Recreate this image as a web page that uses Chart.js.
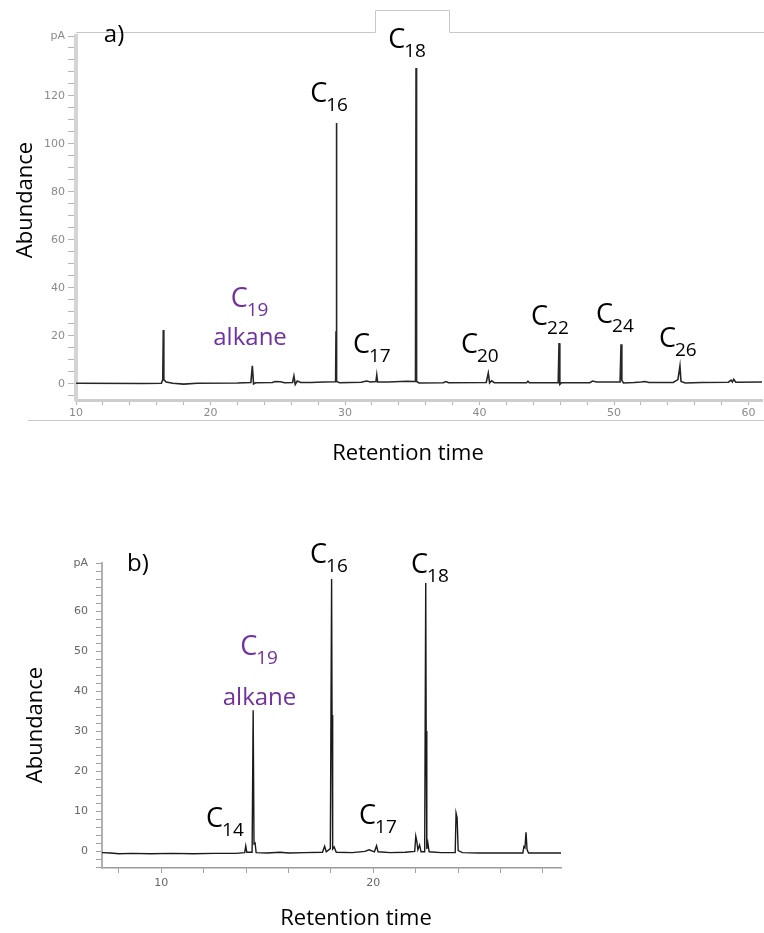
<!DOCTYPE html>
<html><head><meta charset="utf-8">
<script src="https://cdn.jsdelivr.net/npm/chart.js@4.4.1/dist/chart.umd.min.js"></script>
<style>
html,body{margin:0;padding:0;background:#fff;}
#wrap{position:relative;width:764px;height:933px;overflow:hidden;}
canvas{position:absolute;left:0;}
#ca{top:0;}
#cb{top:480px;}
</style></head><body>
<div id="wrap"><canvas id="ca" width="764" height="480"></canvas><canvas id="cb" width="764" height="453"></canvas></div>
<script>
// ---------- Chromatogram a) ----------
const timeA  = [10.0,15.0,16.35,16.45,16.49,16.53,16.7,17.2,18.0,19.0,22.0,23.0,23.11,23.2,23.35,24.6,24.8,25.2,25.5,26.1,26.2,26.3,26.45,26.7,27.5,28.4,29.3,29.33,29.35,29.37,29.4,29.6,31.2,31.6,31.9,32.3,32.36,32.42,33.2,34.6,35.24,35.28,35.32,35.5,37.3,37.5,37.7,40.5,40.65,40.75,40.9,41.1,43.5,43.6,43.7,45.85,45.91,45.97,46.1,48.2,48.4,48.7,50.45,50.52,50.58,50.7,51.5,52.0,52.3,52.6,54.4,54.75,54.9,54.98,55.3,56.5,58.5,58.7,58.8,58.9,59.05,61.0];
const abundA = [0.3,0.2,0.3,1.8,22.5,1.8,0.8,0.3,-0.1,0.3,0.4,0.6,7.5,0.0,0.5,0.6,1.0,0.9,0.5,0.6,3.3,-0.2,1.2,0.6,0.6,0.8,0.9,22,108.7,22,1.0,0.5,0.7,1.2,0.8,1.0,3.7,0.8,0.8,1.1,1.0,131.7,1.0,0.4,0.5,1.0,0.5,0.6,4.5,0.4,1.3,0.5,0.5,1.1,0.5,0.5,17,-0.2,0.5,0.5,1.2,0.8,0.8,16.5,1.5,0.4,0.6,0.8,1.0,0.6,0.6,1.8,7.5,1.0,0.4,0.6,0.7,1.6,0.8,1.9,0.7,0.8];
const xTicksA = {min:10, max:61, step:2, labelEvery:10, maxLabel:60};
const yTicksA = {min:-6.7, max:145, step:5, labelEvery:20, maxLabel:120};
const labelsA_main = ['C','C','C','C','C','C','C'];
const labelsA_sub  = ['16','18','17','20','22','24','26'];
const labelsA_t    = [27.56,33.36,30.74,38.77,43.98,48.81,53.49];
const labelsA_v    = [117.5,140,12.9,12.9,24.5,25.4,15.4];
const alkaneA_t = 22.94, alkaneA_vC = 32, alkaneA_vWord = 16.2;

// ---------- Chromatogram b) ----------
const timeB  = [7.2,7.6,8.0,8.6,9.5,10.5,11.5,12.5,13.5,13.93,13.98,14.03,14.28,14.33,14.37,14.42,14.47,15.0,15.6,16.0,16.8,17.6,17.7,17.78,17.97,18.03,18.05,18.08,18.15,18.25,19.0,19.6,19.8,20.05,20.15,20.22,20.8,21.5,21.95,22.0,22.05,22.1,22.18,22.25,22.42,22.47,22.49,22.52,22.57,22.63,23.2,23.86,23.9,23.95,24.0,24.2,25.0,26.5,27.05,27.1,27.15,27.2,27.25,27.32,28.85];
const abundB = [-0.4,-0.5,-0.7,-0.6,-0.7,-0.6,-0.7,-0.6,-0.6,-0.4,1.3,-0.3,-0.3,35.2,1.8,2.0,-0.4,-0.5,-0.3,-0.5,-0.4,-0.3,1.2,-0.2,0.6,68,34,0.5,1.0,-0.3,-0.4,-0.1,0.3,-0.2,1.3,-0.2,-0.4,-0.3,-0.1,3.7,2.4,0.3,1.5,-0.2,-0.2,67,30,0.5,2.0,-0.2,-0.4,-0.4,9.5,8.3,0.1,-0.4,-0.5,-0.5,-0.5,1.1,0.8,4.7,0.3,-0.5,-0.5];
const xTicksB = {min:7.2, max:28.85, step:2, labelEvery:10, maxLabel:20};
const yTicksB = {min:-4.25, max:72, step:2, labelEvery:10, maxLabel:60};
const labelsB_main = ['C','C','C','C'];
const labelsB_sub  = ['16','18','14','17'];
const labelsB_t    = [17.11,21.87,12.2,19.42];
const labelsB_v    = [72,69.5,6,6.75];
const alkaneB_t = 14.63, alkaneB_vC = 49, alkaneB_vWord = 36.5;

const FONT = '"Open Sans", "Noto Sans", sans-serif';
const MAIN_FONT = '27px ' + FONT;
const SUB_FONT = '19px ' + FONT;
const PURPLE = '#7030A0';

function drawChem(ctx, x, y, main, sub, color, center) {
  ctx.save();
  ctx.fillStyle = color;
  ctx.textBaseline = 'alphabetic';
  ctx.textAlign = 'left';
  ctx.font = MAIN_FONT;
  const w1 = ctx.measureText(main).width;
  ctx.font = SUB_FONT;
  const w2 = ctx.measureText(sub).width;
  const x0 = center ? x - (w1 + w2) / 2 : x - 2;
  ctx.font = MAIN_FONT;
  ctx.fillText(main, x0, y);
  ctx.font = SUB_FONT;
  ctx.fillText(sub, x0 + w1 - 1, y + 9);
  ctx.restore();
}
function drawWord(ctx, x, y, text, font, color, rot) {
  ctx.save();
  ctx.fillStyle = color;
  ctx.font = font;
  ctx.textAlign = 'center';
  ctx.textBaseline = rot ? 'middle' : 'alphabetic';
  ctx.translate(x, y);
  if (rot) ctx.rotate(-Math.PI / 2);
  ctx.fillText(text, 0, 0);
  ctx.restore();
}

function makePoints(ts, vs) { return ts.map((t, i) => ({x: t, y: vs[i]})); }
function isMult(v, m) { const r = Math.abs(v % m); return r < 1e-6 || Math.abs(r - m) < 1e-6; }

function makeChart(id, ts, vs, xt, yt, opt) {
  const labelPlugin = {
    id: 'labels_' + id,
    beforeDraw(chart) {
      if (opt.frame) opt.frame(chart.ctx);
    },
    afterDraw(chart) {
      const ctx = chart.ctx, xs = chart.scales.x, ys = chart.scales.y;
      opt.lm.forEach((m, i) => {
        drawChem(ctx, xs.getPixelForValue(opt.lt[i]), ys.getPixelForValue(opt.lv[i]), m, opt.ls[i], '#000', false);
      });
      const ax = xs.getPixelForValue(opt.alk[0]);
      drawChem(ctx, ax, ys.getPixelForValue(opt.alk[1]), 'C', '19', PURPLE, true);
      drawWord(ctx, ax, ys.getPixelForValue(opt.alk[2]), 'alkane', '24px ' + FONT, PURPLE, false);
      drawWord(ctx, opt.panel[1], opt.panel[2], opt.panel[0], '24px ' + FONT, '#000', false);
      drawWord(ctx, opt.xtitle[0], opt.xtitle[1], 'Retention time', '22px ' + FONT, '#000', false);
      drawWord(ctx, opt.ytitle[0], opt.ytitle[1], 'Abundance', '22px ' + FONT, '#000', true);
    }
  };
  return new Chart(document.getElementById(id), {
    type: 'line',
    data: { datasets: [{ data: makePoints(ts, vs), borderColor: opt.lineColor, borderWidth: opt.lineWidth,
      pointRadius: 0, tension: 0, fill: false }] },
    options: {
      responsive: false, animation: false, events: [], devicePixelRatio: 1,
      layout: { padding: opt.pad },
      plugins: { legend: {display: false}, tooltip: {enabled: false} },
      scales: {
        x: { type: 'linear', min: xt.min, max: xt.max,
          afterFit: s => { s.height = 30; },
          ticks: { stepSize: xt.step, includeBounds: false, autoSkip: false, maxRotation: 0,
            color: opt.tickColor, font: {size: 11, family: '"DejaVu Sans", sans-serif'}, padding: opt.xPad,
            callback: v => (isMult(v, xt.labelEvery) && v <= xt.maxLabel ? String(Math.round(v)) : '') },
          grid: { drawOnChartArea: false, drawTicks: true, tickLength: 5, color: opt.gridColor },
          border: { display: true, color: opt.xBorder, width: opt.xBorderW } },
        y: { type: 'linear', min: yt.min, max: yt.max,
          afterFit: s => { s.width = 40; },
          ticks: { stepSize: yt.step, includeBounds: false, autoSkip: false,
            color: opt.tickColor, font: {size: 11, family: '"DejaVu Sans", sans-serif'}, padding: opt.yPad,
            callback: v => (Math.abs(v - yt.max) < 1e-6 ? 'pA' : (isMult(v, yt.labelEvery) && v <= yt.maxLabel && v >= 0 ? String(Math.round(v)) : '')) },
          grid: { drawOnChartArea: false, drawTicks: true, tickLength: opt.yTick, color: opt.gridColor },
          border: { display: true, color: opt.yBorder, width: opt.yBorderW } }
      }
    },
    plugins: [labelPlugin]
  });
}

makeChart('ca', timeA, abundA, xTicksA, yTicksA, {
  pad: {left: 36, top: 36, right: 2, bottom: 50},
  lineColor: '#262626', lineWidth: 1.6, tickColor: '#8a8a8a', gridColor: '#b5b5b5',
  xBorder: '#cdcdcd', xBorderW: 3, yBorder: '#d4d4d4', yBorderW: 4, yTick: 8, yPad: 3, xPad: 2,
  lm: labelsA_main, ls: labelsA_sub, lt: labelsA_t, lv: labelsA_v,
  alk: [alkaneA_t, alkaneA_vC, alkaneA_vWord],
  panel: ['a)', 114, 42], xtitle: [408, 460], ytitle: [26, 200],
  frame: ctx => {
    ctx.save();
    ctx.strokeStyle = '#c8c8c8'; ctx.lineWidth = 1;
    ctx.beginPath();
    ctx.moveTo(76, 32.5); ctx.lineTo(375.5, 32.5); ctx.lineTo(375.5, 10.5); ctx.lineTo(449.5, 10.5);
    ctx.lineTo(449.5, 32.5); ctx.lineTo(764, 32.5);
    ctx.moveTo(28, 420.5); ctx.lineTo(764, 420.5);
    ctx.stroke();
    ctx.restore();
  }
});

makeChart('cb', timeB, abundB, xTicksB, yTicksB, {
  pad: {left: 62, top: 83, right: 203, bottom: 35},
  lineColor: '#1a1a1a', lineWidth: 1.4, tickColor: '#666', gridColor: '#a0a0a0',
  xBorder: '#9a9a9a', xBorderW: 1.5, yBorder: '#b0b0b0', yBorderW: 2, yTick: 6, yPad: 8, xPad: 4,
  lm: labelsB_main, ls: labelsB_sub, lt: labelsB_t, lv: labelsB_v,
  alk: [alkaneB_t, alkaneB_vC, alkaneB_vWord],
  panel: ['b)', 138, 91], xtitle: [356, 445], ytitle: [36, 245]
});
</script>
</body></html>
